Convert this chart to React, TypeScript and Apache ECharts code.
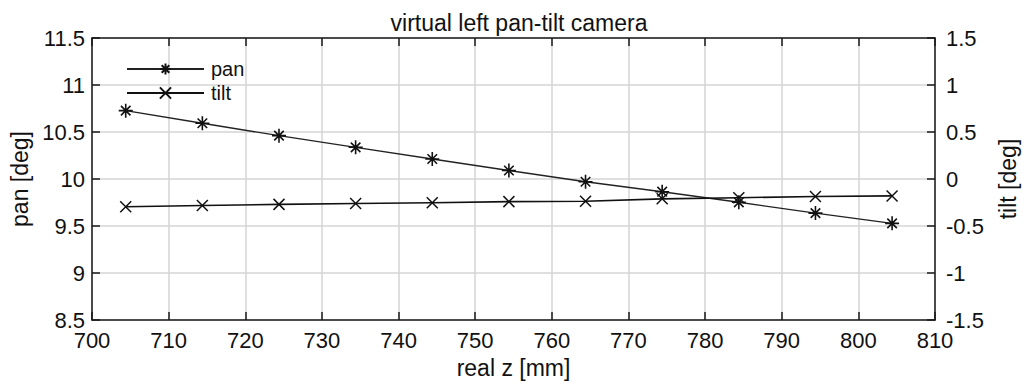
import React, { useEffect, useRef } from "react";
import * as echarts from "echarts";

// real z positions [mm]
const realZ = [704.4, 714.4, 724.4, 734.4, 744.4, 754.4, 764.4, 774.4, 784.4, 794.4, 804.4];
// pan angle [deg]
const panDeg = [10.727, 10.593, 10.461, 10.337, 10.213, 10.09, 9.971, 9.865, 9.752, 9.637, 9.528];
// tilt angle [deg]
const tiltDeg = [-0.295, -0.282, -0.27, -0.26, -0.252, -0.241, -0.236, -0.211, -0.199, -0.186, -0.18];

const FONT = "'Liberation Sans', Arial, Helvetica, sans-serif";
const INK = "#1a1a1a";
const GRID = "#d4d4d4";

// Marker outlines: eight-spoke asterisk and a diagonal cross
const ASTERISK = "path://M0,5L10,5M5,0L5,10M1.6,1.6L8.4,8.4M8.4,1.6L1.6,8.4";
const CROSS = "path://M0,0L10,10M10,0L0,10";

export default function App() {
  const ref = useRef<HTMLDivElement>(null);

  useEffect(() => {
    if (!ref.current) return;
    const chart = echarts.init(ref.current, undefined, { renderer: "svg" });

    const panData = realZ.map((z, i) => [z, panDeg[i]]);
    const tiltData = realZ.map((z, i) => [z, tiltDeg[i]]);

    const axisLine = { show: true, onZero: false, lineStyle: { color: INK, width: 1.5 } };
    const axisTick = { show: true, inside: true, length: 8, lineStyle: { color: INK, width: 1.5 } };
    const labelStyle = { color: "#111", fontSize: 22, fontFamily: FONT };
    const nameStyle = { fontSize: 23, color: "#111", fontFamily: FONT };

    chart.setOption({
      animation: false,
      backgroundColor: "#ffffff",
      textStyle: { fontFamily: FONT },
      title: {
        text: "virtual left pan-tilt camera",
        left: 514,
        textAlign: "center",
        top: 6,
        textStyle: { fontSize: 23, fontWeight: "normal", color: "#111", fontFamily: FONT },
      },
      legend: {
        orient: "vertical",
        left: 126,
        top: 59,
        padding: 0,
        itemWidth: 77,
        itemHeight: 14,
        itemGap: 4,
        textStyle: { fontSize: 20, lineHeight: 20, color: "#111", fontFamily: FONT, padding: [0, 0, 0, 2] },
        data: ["pan", "tilt"],
      },
      grid: { left: 92, right: 91, top: 38, bottom: 67, containLabel: false },
      xAxis: [
        {
          type: "value",
          min: 700,
          max: 810,
          interval: 10,
          name: "real z [mm]",
          nameLocation: "middle",
          nameGap: 36,
          nameTextStyle: nameStyle,
          axisLine,
          axisTick,
          axisLabel: { ...labelStyle, margin: 9 },
          splitLine: { show: true, lineStyle: { color: GRID, width: 1.5 } },
        },
        {
          type: "value",
          position: "top",
          min: 700,
          max: 810,
          interval: 10,
          axisLine,
          axisTick,
          axisLabel: { show: false },
          splitLine: { show: false },
        },
      ],
      yAxis: [
        {
          type: "value",
          min: 8.5,
          max: 11.5,
          interval: 0.5,
          name: "pan [deg]",
          nameLocation: "middle",
          nameGap: 58,
          nameRotate: 90,
          nameTextStyle: nameStyle,
          axisLine,
          axisTick,
          axisLabel: { ...labelStyle, margin: 7, formatter: (v: number) => String(+v.toFixed(1)) },
          splitLine: { show: true, lineStyle: { color: GRID, width: 1.5 } },
        },
        {
          type: "value",
          position: "right",
          min: -1.5,
          max: 1.5,
          interval: 0.5,
          name: "tilt [deg]",
          nameLocation: "middle",
          nameGap: 61,
          nameRotate: 90,
          nameTextStyle: nameStyle,
          axisLine,
          axisTick,
          axisLabel: { ...labelStyle, margin: 11, formatter: (v: number) => String(+v.toFixed(1)) },
          splitLine: { show: false },
        },
      ],
      series: [
        {
          name: "pan",
          type: "line",
          xAxisIndex: 0,
          yAxisIndex: 0,
          data: panData,
          symbol: ASTERISK,
          symbolSize: 14,
          showAllSymbol: true,
          lineStyle: { color: "#222", width: 1.4 },
          itemStyle: { color: "none", borderColor: "#111", borderWidth: 1.6 },
        },
        {
          name: "tilt",
          type: "line",
          xAxisIndex: 0,
          yAxisIndex: 1,
          data: tiltData,
          symbol: CROSS,
          symbolSize: 11,
          showAllSymbol: true,
          lineStyle: { color: "#111", width: 1.6 },
          itemStyle: { color: "none", borderColor: "#111", borderWidth: 1.5 },
        },
      ],
    });

    return () => chart.dispose();
  }, []);

  return <div ref={ref} style={{ width: 1027, height: 387, position: "absolute", left: 0, top: 0 }} />;
}
